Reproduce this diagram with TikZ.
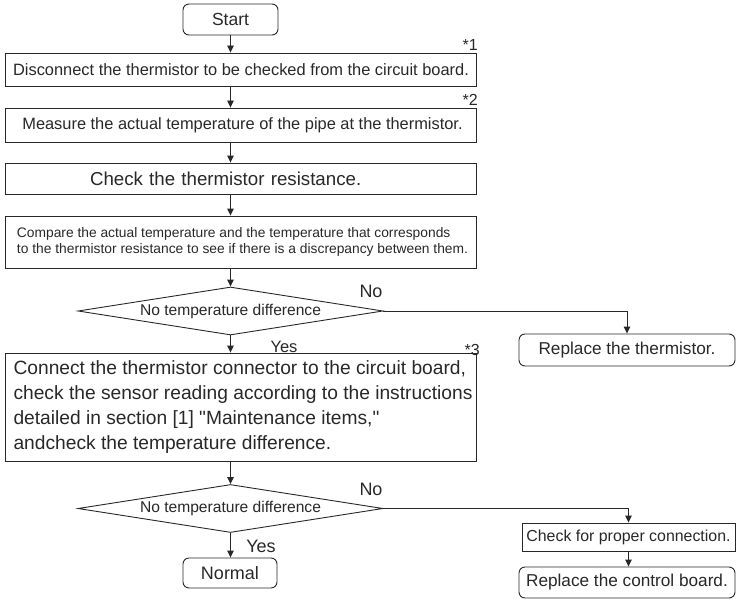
\documentclass[tikz,border=0pt]{standalone}
\usepackage{fontspec}
\setmainfont{Liberation Sans}[Ligatures=TeXOff]
\usetikzlibrary{shapes.geometric,arrows.meta}
\definecolor{ink}{RGB}{40,40,40}
\begin{document}
\begin{tikzpicture}[x=1pt,y=-1pt,
  every node/.style={text=ink},
  boxnode/.style={draw=ink,line width=0.9pt,inner sep=0pt,minimum width=471pt,align=left},
  rboxnode/.style={draw=ink,line width=0.9pt,inner sep=0pt,rounded corners=6pt},
  decision/.style={draw=ink,line width=0.9pt,diamond,aspect=6.35,inner sep=0pt,minimum width=305pt,minimum height=48pt,font=\fontsize{15.6}{18}\selectfont},
  lbl/.style={inner sep=0pt,font=\fontsize{18}{20}\selectfont},
  star/.style={inner sep=0pt,anchor=east,font=\fontsize{16}{18}\selectfont},
  flow/.style={draw=ink,line width=0.9pt,-{Triangle[length=7pt,width=6.5pt]}}]
\useasboundingbox (0,0) rectangle (736,599);

\node[rboxnode,minimum width=95pt,minimum height=31pt,font=\fontsize{17.5}{20}\selectfont] (start) at (230.5,19.5) {Start};
\node[boxnode,minimum height=33pt,font=\fontsize{16.4}{19}\selectfont] (b1) at (240.5,69.5) {\hspace*{1pt}Disconnect the thermistor to be checked from the circuit board.};
\node[boxnode,minimum height=34pt,font=\fontsize{16.4}{19}\selectfont] (b2) at (240.5,125) {\hspace*{4pt}Measure the actual temperature of the pipe at the thermistor.};
\node[boxnode,minimum height=31pt,text width=453pt,font=\fontsize{18.7}{21}\selectfont] (b3) at (240.5,178.5) {\hspace*{76pt}Check the thermistor resistance.};
\node[boxnode,minimum height=52pt,font=\fontsize{13.8}{16}\selectfont] (b4) at (240.5,242) {\hspace*{4pt}Compare the actual temperature and the temperature that corresponds\\\hspace*{4pt}to the thermistor resistance to see if there is a discrepancy between them.};
\node[decision] (d1) at (230.5,311) {No temperature difference};
\node[rboxnode,minimum width=216pt,minimum height=32pt,font=\fontsize{17.2}{20}\selectfont] (rt) at (627,350) {Replace the thermistor.};
\node[boxnode,minimum height=108pt,font=\fontsize{19.2}{25}\selectfont] (big) at (240.5,407) {\hspace*{5pt}Connect the thermistor connector to the circuit board,\\\hspace*{5pt}check the sensor reading according to the instructions\\\hspace*{5pt}detailed in section [1] "Maintenance items,"\\\hspace*{5pt}andcheck the temperature difference.};
\node[decision] (d2) at (230.5,508.5) {No temperature difference};
\node[rboxnode,minimum width=94pt,minimum height=30pt,font=\fontsize{18}{20}\selectfont] (normal) at (230,573) {Normal};
\node[draw=ink,line width=0.9pt,inner sep=0pt,minimum width=213pt,minimum height=28pt,font=\fontsize{15.9}{18}\selectfont] (chk) at (628.5,537) {Check for proper connection.};
\node[rboxnode,minimum width=216pt,minimum height=31pt,font=\fontsize{17.2}{20}\selectfont] (rc) at (627,582.5) {Replace the control board.};

\node[star] (s1) at (478,45) {*1};
\node[star] (s2) at (478,100) {*2};
\node[star] (s3) at (480,350) {*3};
\node[lbl] (no1) at (371,291) {No};
\node[lbl,font=\fontsize{16.5}{18}\selectfont] (yes1) at (284,346.5) {Yes};
\node[lbl] (no2) at (371,489.5) {No};
\node[lbl] (yes2) at (261,546) {Yes};

\draw[flow] (start.south) -- (start.south |- b1.north);
\draw[flow] (b1.south -| start) -- (b2.north -| start);
\draw[flow] (b2.south -| start) -- (b3.north -| start);
\draw[flow] (b3.south -| start) -- (b4.north -| start);
\draw[flow] (b4.south -| d1.north) -- (d1.north);
\draw[flow] (d1.east) -| (rt.north);
\draw[flow] (d1.south) -- (d1.south |- big.north);
\draw[flow] (big.south -| d2.north) -- (d2.north);
\draw[flow] (d2.east) -| (chk.north);
\draw[flow] (d2.south) -- (d2.south |- normal.north);
\draw[flow] (chk.south) -- (chk.south |- rc.north);
\end{tikzpicture}
\end{document}
